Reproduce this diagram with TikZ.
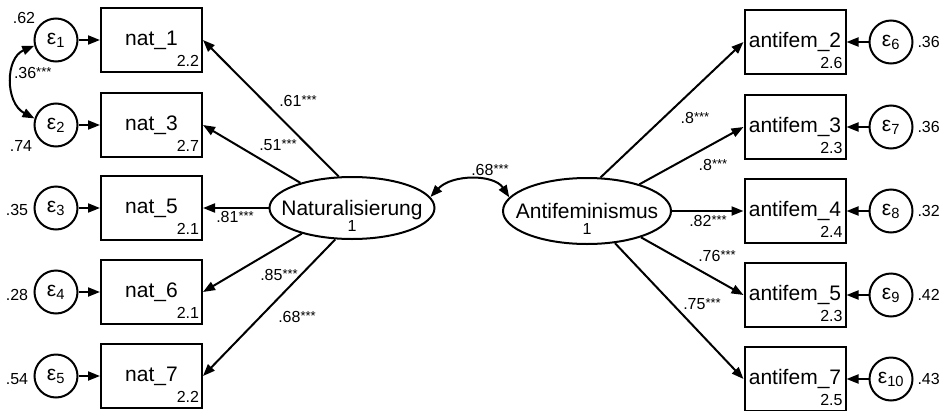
\documentclass[tikz,border=0pt]{standalone}
\usepackage{fontspec}
\setmainfont{Liberation Sans}
\usetikzlibrary{arrows.meta,shapes.geometric}
\newcommand\sigstars{\raisebox{2.5pt}{\fontsize{13}{13}\selectfont ***}}
\begin{document}
\begin{tikzpicture}[x=1pt,y=-1pt,line width=2pt,
  every node/.style={font=\fontsize{21}{23}\selectfont},
  obs/.style={draw,rectangle,minimum width=101pt,minimum height=64pt,inner sep=0pt},
  err/.style={draw,circle,minimum size=43pt,inner sep=0pt},
  lat/.style={draw,ellipse,inner sep=0pt,text depth=0pt},
  sm/.style={font=\fontsize{16}{18}\selectfont,inner sep=0pt},
  mean/.style={sm,anchor=base east},
  regr/.style={-{Triangle[length=12pt,width=9pt]}},
  covar/.style={{Triangle[length=12pt,width=9pt]}-{Triangle[length=12pt,width=9pt]}},
]
\useasboundingbox (0,0) rectangle (943,410);

% latent factors with their variances (zero-width text so the ellipse keeps its set size)
\node[lat,minimum width=165pt,minimum height=62pt] (nat) at (352,208) {\makebox[0pt]{Naturalisierung}};
\node[sm] (natv) at ([yshift=-18pt]nat.center) {1};
\node[lat,minimum width=168pt,minimum height=66pt] (anti) at (587,211) {\makebox[0pt]{Antifeminismus}};
\node[sm] (antiv) at ([yshift=-18pt]anti.center) {1};

% indicators of Naturalisierung
\foreach \n/\y/\m in {1/40/2.2, 3/125/2.7, 5/208/2.1, 6/292/2.1, 7/376/2.2}{
  \node[obs] (n\n) at (151.5,\y) {nat\_\n};
  \node[mean] (mn\n) at ([xshift=-3pt,yshift=7pt]n\n.south east) {\m};
}
% indicators of Antifeminismus
\foreach \n/\y/\m in {2/42/2.6, 3/127/2.3, 4/211/2.4, 5/295/2.3, 7/379/2.5}{
  \node[obs] (a\n) at (795,\y) {antifem\_\n};
  \node[mean] (ma\n) at ([xshift=-3pt,yshift=7pt]a\n.south east) {\m};
}

% error terms, left
\foreach \i/\y in {1/40, 2/125, 3/208, 4/292, 5/376}{
  \node[err] (e\i) at (56,\y) {ε\textsubscript{\i}};
}
\node[sm] (v1) at (24,18) {.62};
\node[sm] (v2) at (21,146) {.74};
\node[sm] (v3) at (17,210) {.35};
\node[sm] (v4) at (17,295) {.28};
\node[sm] (v5) at (17,379) {.54};
\draw[regr] (e1) -- (n1);
\draw[regr] (e2) -- (n3);
\draw[regr] (e3) -- (n5);
\draw[regr] (e4) -- (n6);
\draw[regr] (e5) -- (n7);

% error terms, right
\foreach \i/\n/\y/\v in {6/2/42/.36, 7/3/127/.36, 8/4/211/.32, 9/5/295/.42, 10/7/379/.43}{
  \node[err] (e\i) at (891,\y) {ε\textsubscript{\i}};
  \node[sm,anchor=west] (v\i) at ([xshift=3pt]e\i.east) {\v};
  \draw[regr] (e\i) -- (a\n);
}

% error covariance
\draw[covar] (e1.195) .. controls (5,58) and (5,103) .. (e2.163);
\node[sm,anchor=west] (c12) at (13,73) {.36\sigstars};

% loadings, Naturalisierung
\draw[regr] (nat.113) -- (n1.east);
\draw[regr] (nat.154) -- (n3.east);
\draw[regr] (nat.west) -- (n5.east);
\draw[regr] (nat.207) -- (n6.east);
\draw[regr] (nat.242) -- (n7.east);
\node[sm] (l1) at (298,101) {.61\sigstars};
\node[sm] (l3) at (278,145) {.51\sigstars};
\node[sm] (l5) at (235,217) {.81\sigstars};
\node[sm] (l6) at (279,275) {.85\sigstars};
\node[sm] (l7) at (297,317) {.68\sigstars};

% loadings, Antifeminismus
\draw[regr] (anti.68) -- (a2.west);
\draw[regr] (anti.27) -- (a3.west);
\draw[regr] (anti.east) -- (a4.west);
\draw[regr] (anti.334) -- (a5.west);
\draw[regr] (anti.311) -- (a7.west);
\node[sm] (k2) at (695,118) {.8\sigstars};
\node[sm] (k3) at (713,165) {.8\sigstars};
\node[sm] (k4) at (708,221) {.82\sigstars};
\node[sm] (k5) at (717,256) {.76\sigstars};
\node[sm] (k7) at (702,304) {.75\sigstars};

% factor covariance
\draw[covar] (nat.8) .. controls (452,174) and (494,174) .. (anti.170);
\node[sm] (cf) at (490,170) {.68\sigstars};
\end{tikzpicture}
\end{document}
